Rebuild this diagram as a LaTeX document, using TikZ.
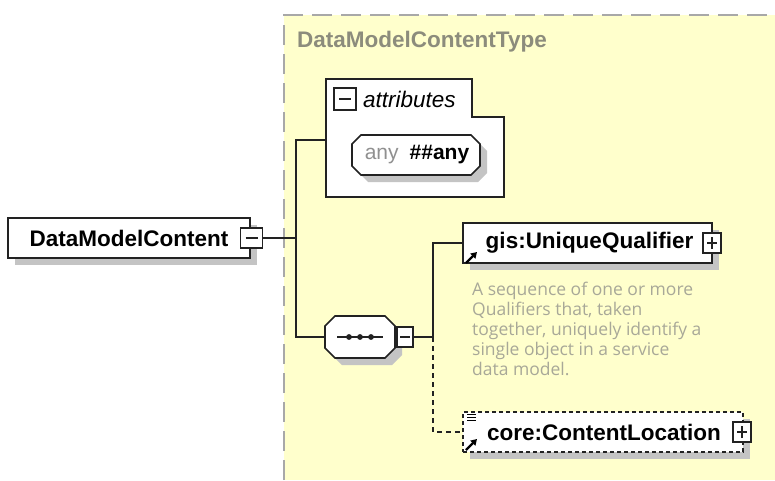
\documentclass[tikz,border=0pt]{standalone}
\usepackage{fontspec}
\setmainfont{Liberation Sans}
\newfontfamily\descfont{Open Sans}
\usetikzlibrary{shadows,arrows.meta}
\definecolor{bgyellow}{HTML}{FFFFCC}
\definecolor{bordergrey}{HTML}{A8A8A8}
\definecolor{shadowgrey}{HTML}{C4C4C4}
\definecolor{titlegrey}{HTML}{8C8C7C}
\definecolor{descgrey}{HTML}{A8A898}
\definecolor{anygrey}{HTML}{909090}
\definecolor{linecol}{HTML}{222222}
% octagon: center x, center y, width, height, chamfer
\newcommand\drawocto[5]{%
  \draw[octpath] ({#1-#3/2+#5},{#2-#4/2}) -- ({#1+#3/2-#5},{#2-#4/2}) -- ({#1+#3/2},{#2-#4/2+#5})
   -- ({#1+#3/2},{#2+#4/2-#5}) -- ({#1+#3/2-#5},{#2+#4/2}) -- ({#1-#3/2+#5},{#2+#4/2})
   -- ({#1-#3/2},{#2+#4/2-#5}) -- ({#1-#3/2},{#2-#4/2+#5}) -- cycle;}
\begin{document}
\begin{tikzpicture}[x=1pt,y=-1pt,
  lbl/.style={font=\fontsize{22.5}{26}\selectfont\bfseries, text=black},
  shadowed/.style={drop shadow={shadow xshift=7pt, shadow yshift=-7pt, fill=shadowgrey, opacity=1}},
  elem/.style={lbl, draw=linecol, line width=1.7pt, fill=white, inner sep=0pt, minimum height=40pt, shadowed},
  optelem/.style={elem, dash pattern=on 4pt off 3pt},
  pmbox/.style={draw=linecol, line width=1.4pt, fill=white, inner sep=0pt, minimum width=18pt, minimum height=20pt},
  octpath/.style={draw=linecol, line width=1.7pt, fill=white, shadowed},
  octnode/.style={inner sep=0pt},
  icon/.style={-{Triangle[length=6pt,width=7pt]}, black, line width=2.4pt},
  conn/.style={draw=linecol, line width=2pt},
  optconn/.style={conn, dash pattern=on 5pt off 4pt}
]
\useasboundingbox (0,0) rectangle (775,480);
% type region
\fill[bgyellow] (284,15) rectangle (775,480);
\draw[bordergrey, line width=2pt, dash pattern=on 20pt off 9pt] (284,480) -- (284,15) -- (775,15);
\node[lbl, text=titlegrey, anchor=west, inner sep=0pt] (typename) at (297,42) {DataModelContentType};

% attributes tab
\draw[draw=linecol, line width=1.7pt, fill=white] (326,79) -- (472,79) -- (472,117) -- (504,117) -- (504,197) -- (326,197) -- cycle;
\coordinate (attrL) at (326,140);
\node[pmbox, minimum width=22pt, minimum height=22pt] (attrm) at (345,99) {};
\draw[linecol, line width=1.4pt] ([xshift=-6pt]attrm.center) -- ([xshift=6pt]attrm.center);
\node[font=\fontsize{22.5}{26}\selectfont\itshape, anchor=west, inner sep=0pt] (attrtxt) at (363,99) {attributes};
\drawocto{416}{155}{128}{40}{9}
\node[octnode, font=\fontsize{21}{25}\selectfont] (any) at (417,155)
  {{\color{anygrey}any}\hspace{11pt}\textbf{\#\#any}};

% root element
\node[elem, minimum width=242pt] (dmc) at (129,238) {DataModelContent};
\node[pmbox, minimum width=22pt] (dmcm) at (251.5,238) {};
\draw[linecol, line width=1.4pt] ([xshift=-6pt]dmcm.center) -- ([xshift=6pt]dmcm.center);

% sequence
\drawocto{360}{337}{70}{42}{10}
\node[octnode, minimum width=70pt, minimum height=42pt] (seq) at (360,337) {};
\draw[linecol, line width=1.7pt] ([xshift=-23pt]seq.center) -- ([xshift=23pt]seq.center);
\foreach \dx in {-11,0,11} \fill[linecol] ([xshift=\dx pt]seq.center) circle (2.9pt);
\node[pmbox, minimum width=16pt] (seqm) at (405,337) {};
\draw[linecol, line width=1.4pt] ([xshift=-5pt]seqm.center) -- ([xshift=5pt]seqm.center);

% children
\node[elem, minimum width=249pt] (gis) at (587.5,243) {\hspace{4pt}gis:UniqueQualifier};
\node[pmbox] (gisp) at (712,243) {};
\draw[linecol, line width=1.4pt] ([xshift=-5pt]gisp.center) -- ([xshift=5pt]gisp.center)
  ([yshift=-6pt]gisp.center) -- ([yshift=6pt]gisp.center);
\draw[icon] (466,263) -- (477,252);

\node[font=\descfont\fontsize{17.5}{20}\selectfont, text=descgrey, align=left, anchor=north west, inner sep=0pt] (desc) at (472,282)
  {A sequence of one or more\\Qualifiers that, taken\\together, uniquely identify a\\single object in a service\\data model.};

\node[optelem, minimum width=280pt] (core) at (603,432) {\hspace{2pt}core:ContentLocation};
\node[pmbox] (corep) at (742,432) {};
\draw[linecol, line width=1.4pt] ([xshift=-5pt]corep.center) -- ([xshift=5pt]corep.center)
  ([yshift=-6pt]corep.center) -- ([yshift=6pt]corep.center);
\draw[icon] (466,450) -- (477,439);
\draw[black, line width=1.1pt] (467,414.5) -- (476,414.5) (467,417.5) -- (476,417.5) (467,420.5) -- (476,420.5);

% connectors
\coordinate (j1) at (296,238);
\coordinate (j2) at (433,337);
\draw[conn] (dmcm.east) -- (j1);
\draw[conn] (attrL) -| (j1) |- (seq.west);
\draw[conn] (seqm.east) -- (j2) |- (gis.west);
\draw[optconn] (j2) |- (core.west);
\end{tikzpicture}
\end{document}
